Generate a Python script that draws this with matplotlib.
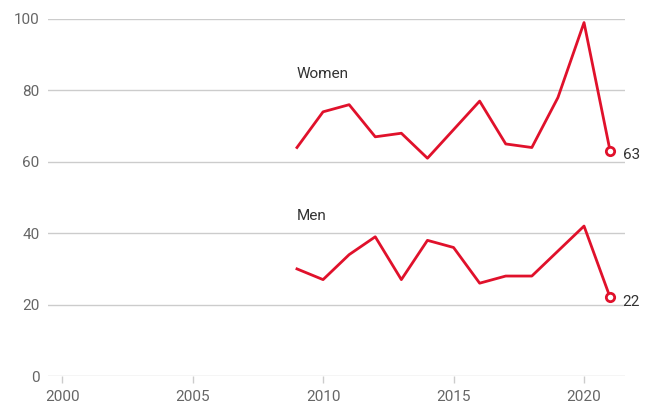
import matplotlib
matplotlib.use("Agg")
from matplotlib import pyplot as plt

plt.rcParams['font.family'] = ['Roboto', 'DejaVu Sans']
plt.rcParams['font.stretch'] = 'normal'

years = [2009, 2010, 2011, 2012, 2013, 2014, 2015, 2016, 2017, 2018, 2019, 2020, 2021]
women = [64, 74, 76, 67, 68, 61, 69, 77, 65, 64, 78, 99, 63]
men = [30, 27, 34, 39, 27, 38, 36, 26, 28, 28, 35, 42, 22]
x_ticks = [2000, 2005, 2010, 2015, 2020]
y_ticks = [0, 20, 40, 60, 80, 100]

red = '#e0112b'
grid_col = '#cccccc'
tick_col = '#666666'
fs = 11

fig = plt.figure(figsize=(6.53, 4.09), dpi=100)
ax = fig.add_axes([48/653, 33/409, 577/653, 357/409])

for v in y_ticks:
    ax.axhline(v, color=grid_col, lw=1, zorder=1)

for series, label, label_y in [(women, 'Women', 84.6), (men, 'Men', 44.8)]:
    ax.plot(years, series, color=red, lw=2, zorder=3)
    ax.plot(years[-1], series[-1], 'o', ms=6, mfc='white', mec=red, mew=2, zorder=4)
    ax.annotate(str(series[-1]), (years[-1], series[-1]), xytext=(9, -3),
                textcoords='offset points', va='center', ha='left',
                fontsize=fs, color='#333333')
    ax.text(years[0], label_y, label, fontsize=fs, color='#333333', va='center', ha='left')

ax.set_xlim(1999.46, 2021.57)
ax.set_ylim(0, 100)
ax.set_xticks(x_ticks)
ax.set_yticks(y_ticks)
for s in ax.spines.values():
    s.set_visible(False)
ax.tick_params(axis='y', length=0, pad=6, labelsize=fs, labelcolor=tick_col)
ax.tick_params(axis='x', length=5, width=1, color=grid_col, pad=5, labelsize=fs, labelcolor=tick_col)

fig.savefig('out.png', dpi=100)
